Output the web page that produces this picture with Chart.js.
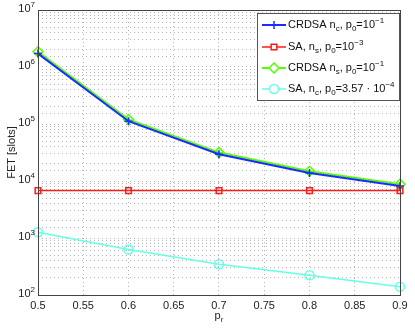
<!DOCTYPE html>
<html>
<head>
<meta charset="utf-8">
<script src="https://cdn.jsdelivr.net/npm/chart.js@4.4.1/dist/chart.umd.min.js"></script>
<style>
  html, body { margin: 0; padding: 0; background: #fff; }
  #fet { display: block; }
</style>
</head>
<body>
<canvas id="fet" width="415" height="330"></canvas>
<script>
  'use strict';

  // p_r values on the x axis
  var prValues = [0.5, 0.6, 0.7, 0.8, 0.9];
  // FET [slots] per series
  var crdsaNc = [1.72e6, 1.12e5, 2.95e4, 1.38e4, 8.2e3];
  var saNs = [6.8e3, 6.8e3, 6.8e3, 6.8e3, 6.8e3];
  var crdsaNs = [1.85e6, 1.2e5, 3.15e4, 1.48e4, 8.8e3];
  var saNc = [1.26e3, 630, 345, 222, 140];
  // axis tick labels
  var xTicks = [0.5, 0.55, 0.6, 0.65, 0.7, 0.75, 0.8, 0.85, 0.9];
  var yDecades = [2, 3, 4, 5, 6, 7];

  // legend labels as rich text parts: [text, 'n' | 'sub' | 'sup']
  var legendParts = [
    [['CRDSA n', 'n'], ['c', 'sub'], [', p', 'n'], ['0', 'sub'], ['=10', 'n'], ['\u22121', 'sup']],
    [['SA, n', 'n'], ['s', 'sub'], [', p', 'n'], ['0', 'sub'], ['=10', 'n'], ['\u22123', 'sup']],
    [['CRDSA n', 'n'], ['s', 'sub'], [', p', 'n'], ['0', 'sub'], ['=10', 'n'], ['\u22121', 'sup']],
    [['SA, n', 'n'], ['c', 'sub'], [', p', 'n'], ['0', 'sub'], ['=3.57 \u00b7 10', 'n'], ['\u22124', 'sup']]
  ];

  var FONT = '"Liberation Sans", Arial, sans-serif';

  function points(ys) {
    return prValues.map(function (x, i) { return { x: x, y: ys[i] }; });
  }

  function drawRich(ctx, parts, x, y, size) {
    ctx.textBaseline = 'middle';
    ctx.textAlign = 'left';
    parts.forEach(function (p) {
      var s = p[1] === 'n' ? size : Math.round(size * 0.72);
      var dy = p[1] === 'sub' ? size * 0.32 : (p[1] === 'sup' ? -size * 0.38 : 0);
      ctx.font = s + 'px ' + FONT;
      ctx.fillText(p[0], x, y + dy);
      x += ctx.measureText(p[0]).width;
    });
    return x;
  }

  function richWidth(ctx, parts, size) {
    var w = 0;
    parts.forEach(function (p) {
      var s = p[1] === 'n' ? size : Math.round(size * 0.72);
      ctx.font = s + 'px ' + FONT;
      w += ctx.measureText(p[0]).width;
    });
    return w;
  }

  var matlabDecor = {
    id: 'matlabDecor',
    afterDraw: function (chart) {
      var ctx = chart.ctx;
      var area = chart.chartArea;
      var yScale = chart.scales.y;
      ctx.save();

      // axes box
      ctx.strokeStyle = '#444';
      ctx.lineWidth = 1;
      ctx.strokeRect(area.left + 0.5, area.top + 0.5, area.right - area.left, area.bottom - area.top);

      // y tick labels: 10^n
      ctx.fillStyle = '#222';
      yDecades.forEach(function (d) {
        var py = yScale.getPixelForValue(Math.pow(10, d));
        var parts = [['10', 'n'], [String(d), 'sup']];
        var w = richWidth(ctx, parts, 11);
        drawRich(ctx, parts, area.left - 3 - w, py - 1, 11);
      });

      // axis titles
      var xParts = [['p', 'n'], ['r', 'sub']];
      var xw = richWidth(ctx, xParts, 11);
      drawRich(ctx, xParts, (area.left + area.right) / 2 - xw / 2, 316, 11);

      ctx.save();
      ctx.translate(12, (area.top + area.bottom) / 2);
      ctx.rotate(-Math.PI / 2);
      ctx.font = '11px ' + FONT;
      ctx.textAlign = 'center';
      ctx.textBaseline = 'middle';
      ctx.fillText('FET [slots]', 0, 0);
      ctx.restore();

      // legend
      var lx = 257, ly = 13, lw = 142, lh = 87;
      ctx.fillStyle = '#fff';
      ctx.fillRect(lx, ly, lw, lh);
      ctx.strokeStyle = '#555';
      ctx.lineWidth = 1;
      ctx.strokeRect(lx + 0.5, ly + 0.5, lw, lh);
      var rows = [25, 47, 68, 89];
      chart.data.datasets.forEach(function (ds, i) {
        var ry = rows[i];
        ctx.strokeStyle = ds.borderColor;
        ctx.lineWidth = ds.borderWidth;
        ctx.beginPath();
        ctx.moveTo(262, ry);
        ctx.lineTo(286, ry);
        ctx.stroke();
        ctx.fillStyle = '#fff';
        ctx.lineWidth = ds.pointBorderWidth;
        Chart.helpers.drawPoint(ctx, {
          pointStyle: ds.pointStyle,
          radius: ds.pointRadius,
          borderWidth: ds.pointBorderWidth,
          rotation: 0
        }, 274, ry);
        ctx.fillStyle = '#111';
        drawRich(ctx, legendParts[i], 288, ry, 11);
      });
      ctx.restore();
    }
  };

  function series(data, color, style, radius, width) {
    return {
      data: points(data),
      borderColor: color,
      backgroundColor: 'rgba(0,0,0,0)',
      borderWidth: width,
      pointStyle: style,
      pointRadius: radius,
      pointBorderColor: color,
      pointBackgroundColor: 'rgba(0,0,0,0)',
      pointBorderWidth: 1.5,
      tension: 0,
      clip: false
    };
  }

  new Chart(document.getElementById('fet'), {
    type: 'line',
    data: {
      datasets: [
        series(crdsaNc, '#1a2cff', 'cross', 4, 2),
        series(saNs, '#ff1a1a', 'rect', 4, 1.5),
        series(crdsaNs, '#55ff00', 'rectRot', 5, 2),
        series(saNc, '#66ffe6', 'circle', 4.5, 1.5)
      ]
    },
    options: {
      responsive: false,
      animation: false,
      events: [],
      layout: { padding: { left: 0, right: 15, top: 10, bottom: 0 } },
      plugins: {
        legend: { display: false },
        tooltip: { enabled: false }
      },
      scales: {
        x: {
          type: 'linear',
          min: 0.5,
          max: 0.9,
          afterBuildTicks: function (scale) {
            scale.ticks = xTicks.map(function (v) { return { value: v }; });
          },
          afterFit: function (scale) {
            scale.height = 35;
            scale.paddingLeft = 0;
            scale.paddingRight = 0;
          },
          grid: { color: '#b4b4b4', lineWidth: 1, drawTicks: false },
          border: { display: false, dash: [1, 3] },
          ticks: {
            padding: 4,
            color: '#222',
            font: { family: FONT, size: 11 },
            maxRotation: 0,
            callback: function (v) { return String(Math.round(v * 100) / 100); }
          }
        },
        y: {
          type: 'logarithmic',
          min: 100,
          max: 1e7,
          afterFit: function (scale) {
            scale.width = 38;
            scale.paddingTop = 0;
            scale.paddingBottom = 0;
          },
          grid: { color: '#b4b4b4', lineWidth: 1, drawTicks: false },
          border: { display: false, dash: [1, 3] },
          ticks: {
            autoSkip: false,
            callback: function () { return ''; }
          }
        }
      }
    },
    plugins: [matlabDecor]
  });
</script>
</body>
</html>
